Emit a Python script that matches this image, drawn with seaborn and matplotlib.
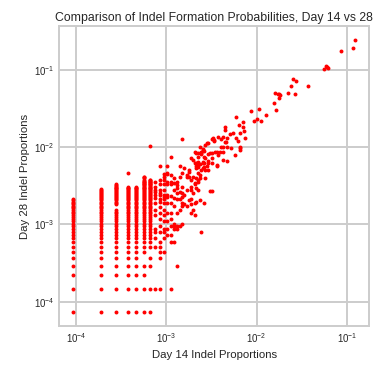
import matplotlib
matplotlib.use("Agg")
import matplotlib.pyplot as plt
import numpy as np
import pandas as pd
import seaborn as sns

# Total read counts per time point (indel proportions = reads / total)
total_day14 = 10720
total_day28 = 13680

# Day-28 read counts for indels seen with 1..7 reads at day 14
d28_when_d14_1 = [1, 2, 3, 4, 5, 6, 7, 8, 9, 10, 11, 12, 13, 14, 15, 16, 17, 18, 19, 20,
                  21, 22, 23, 24, 25, 26, 27, 28, 29]
d28_when_d14_2 = [1, 2, 3, 4, 5, 6, 7, 8, 9, 10, 11, 12, 13, 14, 15, 16, 17, 18, 19, 20,
                  21, 22, 23, 24, 25, 26, 27, 28, 29, 30, 31, 32, 33, 34, 35, 36, 37, 38, 39]
d28_when_d14_3 = [1, 2, 3, 4, 5, 6, 7, 8, 9, 10, 11, 12, 13, 14, 15, 16, 17, 18, 19, 20,
                  21, 25, 26, 27, 28, 29, 30, 31, 32, 33, 34, 35, 36, 37, 38, 39, 40, 41,
                  42, 43, 44, 45]
d28_when_d14_4 = [1, 2, 3, 4, 5, 6, 7, 8, 9, 10, 11, 12, 13, 14, 15, 16, 17, 18, 19, 20,
                  21, 22, 23, 24, 25, 26, 27, 28, 29, 30, 31, 32, 33, 34, 35, 36, 37, 38,
                  39, 40, 41, 42, 64]
d28_when_d14_5 = [1, 2, 3, 4, 5, 6, 7, 8, 9, 10, 11, 12, 13, 14, 15, 16, 17, 18, 19, 20,
                  21, 22, 23, 24, 25, 26, 27, 28, 29, 30, 31, 32, 33, 34, 35, 36, 37, 38,
                  39, 40, 41, 42]
d28_when_d14_6 = [1, 2, 3, 4, 6, 7, 8, 9, 10, 11, 12, 13, 14, 15, 16, 17, 18, 19, 20, 21,
                  22, 23, 24, 25, 26, 27, 28, 29, 30, 31, 32, 33, 34, 35, 36, 37, 38, 39,
                  40, 41, 42, 43, 44, 45, 46, 47, 48, 49, 50, 52, 54, 56, 57]
d28_when_d14_7 = [1, 2, 4, 5, 7, 8, 9, 10, 11, 12, 13, 14, 15, 16, 17, 18, 19, 20, 21, 22,
                  23, 24, 25, 26, 27, 28, 29, 30, 31, 32, 33, 34, 35, 36, 37, 38, 39, 40,
                  41, 42, 43, 44, 45, 46, 47, 48, 49, 50, 51, 52, 143]

# Remaining indels: paired day-14 / day-28 read counts
d14_reads = [8, 8, 8, 8, 8, 8, 8, 8, 8, 8, 8, 8, 8, 8,
             9, 9, 9, 9, 9, 9, 9, 9, 9, 9, 9, 9, 9, 9, 9, 9, 9, 9,
             10, 10, 10, 10, 10, 10, 10, 10, 10, 10, 10, 10, 10, 10, 10, 10,
             11, 11, 11, 11, 11, 11, 11, 11, 11, 11, 11, 11,
             12, 12, 12, 12, 12, 12, 12, 12, 12, 12, 12, 12,
             13, 13, 13, 13, 13, 13, 13, 13, 13,
             14, 14, 14, 14, 14, 14, 14, 14, 14,
             15, 15, 15, 15, 15, 15,
             16, 16, 16, 16, 16, 16, 16, 16,
             17, 17, 17, 18, 18, 18, 18, 19, 19, 19, 19,
             20, 20, 20, 20, 20, 20, 20, 21, 21, 21, 21,
             22, 22, 22, 22, 22, 22, 23, 23, 23, 23, 23, 23, 23,
             24, 24, 24, 24, 24, 24, 24, 24, 24, 25, 25, 25, 25, 25,
             26, 26, 26, 26, 26, 27, 27, 27, 27, 27, 28, 28, 28, 28, 28,
             29, 29, 29, 29, 30, 30, 31, 31, 31, 31, 31, 33, 33,
             34, 34, 34, 34, 34, 35, 36, 36, 37, 39, 39, 39, 40, 40, 42, 43, 43,
             45, 46, 46, 46, 48, 48, 48, 49, 50, 51, 51, 54, 56, 58, 61, 63, 64,
             66, 69, 70, 70, 70, 71, 75, 76, 77, 79, 93, 100, 108, 115, 121, 136,
             168, 172, 177, 183, 191, 192, 196, 238, 259, 268, 285, 292, 400,
             602, 634, 645, 671, 922, 1240, 1327]
d28_reads = [2, 7, 9, 11, 12, 18, 21, 26, 30, 33, 36, 38, 42, 49,
             2, 5, 6, 7, 8, 11, 13, 16, 19, 23, 27, 29, 33, 35, 38, 45, 52, 77,
             6, 9, 11, 12, 15, 18, 21, 26, 29, 31, 33, 38, 45, 52, 57, 61,
             10, 12, 15, 19, 26, 31, 33, 45, 49, 61, 63, 77,
             2, 8, 10, 13, 16, 19, 26, 32, 45, 49, 60, 103,
             8, 12, 13, 14, 24, 30, 38, 47, 54,
             4, 12, 13, 19, 29, 35, 40, 44, 49,
             13, 21, 29, 36, 57, 79,
             14, 24, 26, 31, 35, 42, 63, 174,
             25, 33, 73, 24, 38, 56, 60, 28, 57, 66, 70,
             19, 25, 29, 38, 42, 52, 98, 21, 35, 57, 93,
             18, 26, 45, 47, 85, 119, 27, 40, 54, 73, 78, 86, 114,
             38, 49, 52, 63, 76, 80, 89, 103, 114, 28, 54, 60, 83, 138,
             11, 70, 111, 114, 119, 73, 85, 89, 126, 128, 26, 75, 85, 103, 122,
             54, 70, 98, 146, 77, 153, 70, 85, 91, 112, 156, 37, 114,
             37, 85, 98, 114, 172, 178, 162, 169, 119, 77, 81, 118, 108, 185, 119, 138, 172,
             93, 119, 136, 183, 161, 227, 246, 159, 181, 90, 138, 202, 134, 210, 109, 337, 178,
             165, 263, 126, 138, 206, 132, 250, 288, 220, 181, 402, 296, 314, 426, 294, 361,
             515, 693, 419, 672, 598, 659, 640, 693, 853, 1027, 659, 988, 835,
             1422, 1523, 1479, 1435, 2423, 2594, 3357]

# Assemble the full table of indels
low_cols = [d28_when_d14_1, d28_when_d14_2, d28_when_d14_3, d28_when_d14_4,
            d28_when_d14_5, d28_when_d14_6, d28_when_d14_7]
x_counts = []
y_counts = []
for k, col in enumerate(low_cols, start=1):
    x_counts += [k] * len(col)
    y_counts += list(col)
x_counts += d14_reads
y_counts += d28_reads

df = pd.DataFrame({
    "day14": np.array(x_counts) / total_day14,
    "day28": np.array(y_counts) / total_day28,
})

sns.set_theme(style="whitegrid", rc={
    "grid.color": "#cccccc",
    "grid.linewidth": 1.4,
    "axes.edgecolor": "#cccccc",
    "axes.linewidth": 1.4,
})
plt.rcParams["font.family"] = ["Liberation Sans", "DejaVu Sans"]

fig = plt.figure(figsize=(3.76, 3.67), dpi=100)
ax = fig.add_axes([0.1577, 0.112, 0.8245, 0.817])

sns.scatterplot(data=df, x="day14", y="day28", color="red", s=8,
                linewidth=0, ax=ax, legend=False)
ax.set_xscale("log")
ax.set_yscale("log")
ax.minorticks_off()

ax.set_title("Comparison of Indel Formation Probabilities, Day 14 vs 28",
             fontsize=8.8, color="#262626", pad=4)
ax.set_xlabel("Day 14 Indel Proportions", fontsize=8.2, color="#262626", labelpad=4)
ax.set_ylabel("Day 28 Indel Proportions", fontsize=8.2, color="#262626", labelpad=3)
ax.tick_params(axis="both", labelsize=7, colors="#262626", pad=3.5, length=0)

fig.savefig("out.png", dpi=100)
